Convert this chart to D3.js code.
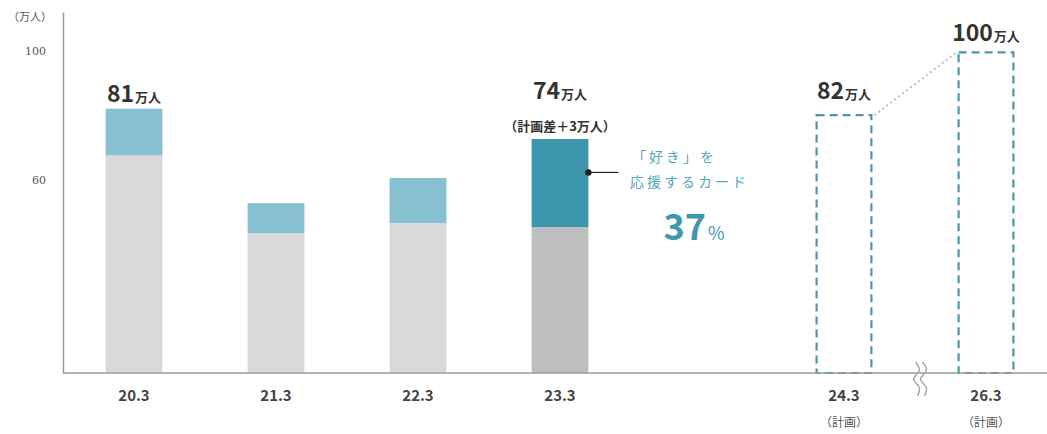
<!DOCTYPE html>
<html>
<head>
<meta charset="utf-8">
<script src="https://cdn.jsdelivr.net/npm/d3@7"></script>
<style>
  body { margin: 0; background: #fff; }
  svg { display: block; font-family: "Noto Sans CJK JP", "Noto Sans", sans-serif; }
</style>
</head>
<body>
<svg width="1047" height="434"></svg>
<script>
// slots on the x axis; "gap" keeps the empty place for 25.3
var slots = ["20.3", "21.3", "22.3", "23.3", "gap", "24.3", "26.3"];
var categories = ["20.3", "21.3", "22.3", "23.3", "24.3", "26.3"];

// actual members (万人): grey part + 「好き」を応援するカード part
var actualCats = ["20.3", "21.3", "22.3", "23.3"];
var baseValues = [67.5, 43.4, 46.5, 45.3];
var fanValues = [14.5, 9.3, 14, 27.3];

// plan (dashed)
var planCats = ["24.3", "26.3"];
var planValues = [80, 99.5];

// value labels over the bars
var labelCats = ["20.3", "23.3", "24.3", "26.3"];
var labelValues = [81, 74, 82, 100];

var yTicks = [60, 100];
var fanShare = 37;

var svg = d3.select("svg"),
    width = +svg.attr("width"),
    height = +svg.attr("height");

var x = d3.scaleBand()
    .domain(slots)
    .range([63, 1057])
    .paddingInner(0.6)
    .paddingOuter(0.3);

var y = d3.scaleLinear()
    .domain([0, 112])
    .range([373, 12]);

// axes
var yAxis = svg.append("g")
    .attr("transform", "translate(63,0)")
    .call(d3.axisLeft(y).tickValues(yTicks).tickSize(0).tickSizeOuter(0).tickPadding(17));
yAxis.select(".domain").attr("stroke", "#9a9a9a").attr("stroke-width", 1.5);
yAxis.selectAll("text")
    .attr("fill", "#555")
    .style("font-size", "11px")
    .style("font-family", "'DejaVu Serif', serif");

svg.append("text")
    .attr("x", 30)
    .attr("y", 21)
    .attr("text-anchor", "middle")
    .attr("fill", "#555")
    .style("font-size", "11px")
    .text("（万人）");

var xAxis = svg.append("g")
    .attr("transform", "translate(0," + y(0) + ")")
    .call(d3.axisBottom(x).tickValues(categories).tickSize(0).tickPadding(17));
xAxis.select(".domain").remove();
xAxis.selectAll("text")
    .attr("fill", "#444")
    .style("font-size", "15px")
    .style("font-weight", "bold")
    .style("font-family", "'Noto Sans CJK JP', sans-serif");

svg.append("g").selectAll("text")
    .data(planCats)
    .enter().append("text")
    .attr("x", function(d) { return x(d) + x.bandwidth() / 2; })
    .attr("y", 427)
    .attr("text-anchor", "middle")
    .attr("fill", "#555")
    .style("font-size", "12px")
    .text("（計画）");

// actual bars
var actual = actualCats.map(function(c, i) {
  return { cat: c, base: baseValues[i], fan: fanValues[i], hi: c == "23.3" };
});

var bars = svg.append("g");
bars.selectAll("rect.base")
    .data(actual)
    .enter().append("rect")
    .attr("class", "base")
    .attr("x", function(d) { return x(d.cat); })
    .attr("width", x.bandwidth())
    .attr("y", function(d) { return y(d.base); })
    .attr("height", function(d) { return y(0) - y(d.base); })
    .attr("fill", function(d) { return d.hi ? "#bebebe" : "#d9d9d9"; });

bars.selectAll("rect.fan")
    .data(actual)
    .enter().append("rect")
    .attr("class", "fan")
    .attr("x", function(d) { return x(d.cat); })
    .attr("width", x.bandwidth())
    .attr("y", function(d) { return y(d.base + d.fan); })
    .attr("height", function(d) { return y(d.base) - y(d.base + d.fan); })
    .attr("fill", function(d) { return d.hi ? "#3d95ae" : "#86c0d1"; });

// plan bars (dashed outline)
var plan = planCats.map(function(c, i) { return { cat: c, value: planValues[i] }; });
svg.append("g").selectAll("rect")
    .data(plan)
    .enter().append("rect")
    .attr("x", function(d) { return x(d.cat) + 1; })
    .attr("width", x.bandwidth() - 2)
    .attr("y", function(d) { return y(d.value); })
    .attr("height", function(d) { return y(0) - y(d.value); })
    .attr("fill", "none")
    .attr("stroke", "#4a98a8")
    .attr("stroke-width", 2.2)
    .attr("stroke-dasharray", "8,5");

// dotted link between plan bars
svg.append("line")
    .attr("x1", x(planCats[0]) + x.bandwidth() + 2)
    .attr("y1", y(planValues[0]))
    .attr("x2", x(planCats[1]) - 1)
    .attr("y2", y(planValues[1]))
    .attr("stroke", "#bdbdbd")
    .attr("stroke-width", 2)
    .attr("stroke-dasharray", "2,3");

// x axis line (drawn over bar bottoms)
svg.append("line")
    .attr("x1", 63).attr("x2", width)
    .attr("y1", y(0)).attr("y2", y(0))
    .attr("stroke", "#9a9a9a")
    .attr("stroke-width", 1.5);

// break mark between 24.3 and 26.3
var bx = (x(planCats[0]) + x(planCats[1]) + x.bandwidth()) / 2 + 5;
var wave = d3.line().curve(d3.curveCatmullRom);
[-3.5, 3.5].forEach(function(dx) {
  var cx = bx + dx;
  svg.append("path")
    .attr("d", wave([[cx - 1, 362], [cx + 3, 370], [cx - 3, 379], [cx + 3, 388], [cx + 1, 396]]))
    .attr("fill", "none")
    .attr("stroke", "#a5a5a5")
    .attr("stroke-width", 1.4);
});

// value labels
var labels = svg.append("g");
labelCats.forEach(function(c, i) {
  var cx = x(c) + x.bandwidth() / 2;
  var off = c == "23.3" ? 35 : 10;
  var t = labels.append("text")
      .attr("x", cx)
      .attr("y", y(labelValues[i]) - off)
      .attr("text-anchor", "middle")
      .attr("fill", "#333")
      .style("font-weight", "bold");
  t.append("tspan").style("font-size", "23px").text(labelValues[i]);
  t.append("tspan").style("font-size", "13px").attr("dx", 1).text("万人");
  if (c == "23.3") {
    labels.append("text")
      .attr("x", cx)
      .attr("y", y(labelValues[i]) - 3)
      .attr("text-anchor", "middle")
      .attr("fill", "#333")
      .style("font-size", "13px")
      .style("font-weight", "bold")
      .text("（計画差＋3万人）");
  }
});

// annotation for the fan card share
var hi = actual[3];
var ay = y(hi.base + hi.fan * 0.62);
var ax = x(hi.cat) + x.bandwidth();
svg.append("line")
    .attr("x1", ax).attr("x2", ax + 30)
    .attr("y1", ay).attr("y2", ay)
    .attr("stroke", "#222").attr("stroke-width", 1.2);
svg.append("circle")
    .attr("cx", ax).attr("cy", ay).attr("r", 3.2)
    .attr("fill", "#222");

var note = svg.append("g").attr("fill", "#55a6bd").style("font-size", "14px").style("letter-spacing", "3px");
note.append("text").attr("x", 632).attr("y", 162).text("「好き」を");
note.append("text").attr("x", 630).attr("y", 187).text("応援するカード");

var pct = svg.append("text")
    .attr("x", 694)
    .attr("y", 240)
    .attr("text-anchor", "middle")
    .attr("fill", "#4197af")
    .style("font-weight", "bold");
pct.append("tspan").style("font-size", "36px").text(fanShare);
pct.append("tspan").style("font-size", "18px").style("font-weight", "normal").attr("dx", 2).text("%");
</script>
</body>
</html>
